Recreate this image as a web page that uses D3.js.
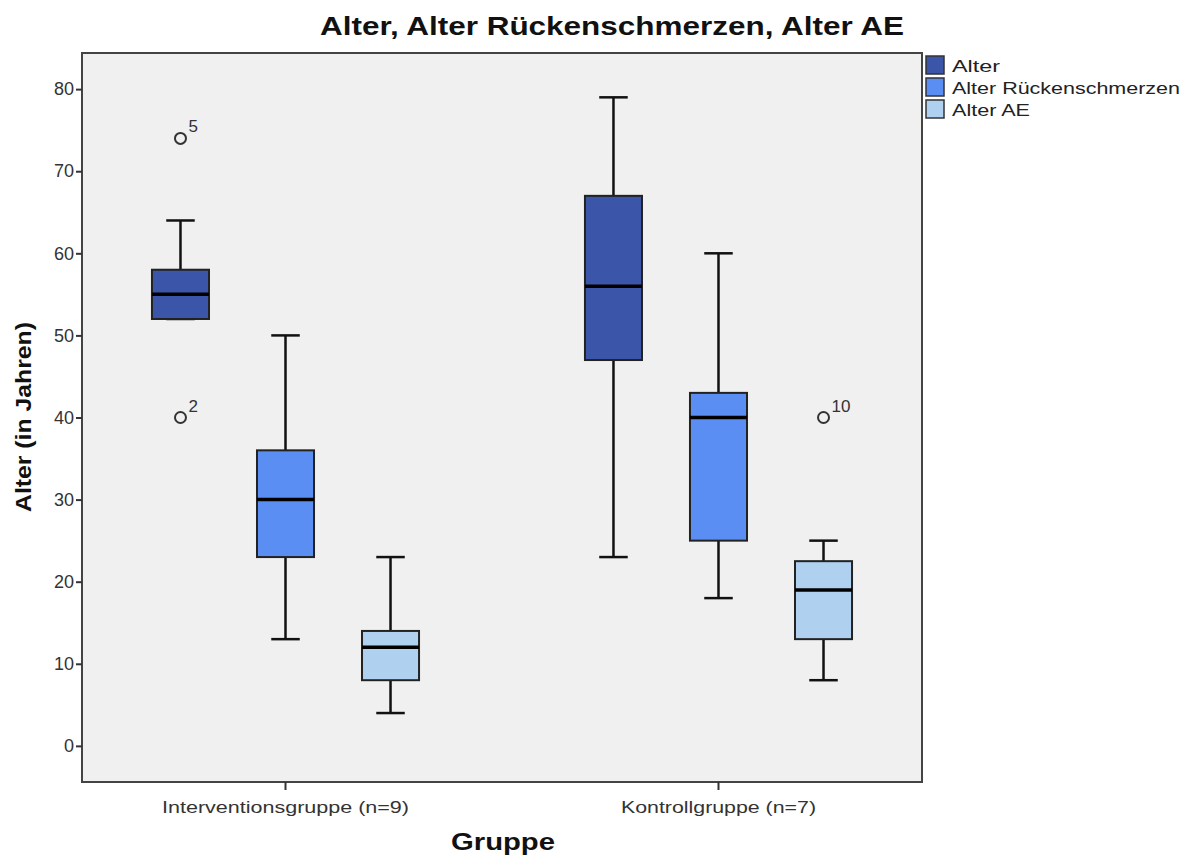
<!DOCTYPE html>
<head>
  <meta charset="utf-8">
  <script src="https://d3js.org/d3.v7.min.js"></script>
  <style>
    body { margin:0; background:#fff; font-family: "Liberation Sans", Arial, sans-serif; }
  </style>
</head>
<body>
  <script>
    // data
    var groups = ["Interventionsgruppe (n=9)", "Kontrollgruppe (n=7)"];
    var series = ["Alter", "Alter Rückenschmerzen", "Alter AE"];
    var colors = ["#3b55a8", "#5b8ef2", "#afd0ef"];
    // [group][series] = [lowWhisker, q1, median, q3, highWhisker]
    var stats = [
      [[52, 52, 55, 58, 64], [13, 23, 30, 36, 50], [4, 8, 12, 14, 23]],
      [[23, 47, 56, 67, 79], [18, 25, 40, 43, 60], [8, 13, 19, 22.5, 25]]
    ];
    // outliers: [group, series, value, case label]
    var outliers = [
      [0, 0, 74, "5"],
      [0, 0, 40, "2"],
      [1, 2, 40, "10"]
    ];
    var yTicks = [0, 10, 20, 30, 40, 50, 60, 70, 80];

    var W = 1189, H = 857;
    var pLeft = 82, pRight = 922, pTop = 53, pBottom = 782;

    var svg = d3.select("body").append("svg")
      .attr("width", W)
      .attr("height", H);

    var x = d3.scaleBand()
      .domain(groups)
      .range([pLeft, pRight])
      .paddingOuter(0.1)
      .paddingInner(0.26);

    var xs = d3.scaleBand()
      .domain(series)
      .range([0, x.bandwidth()])
      .paddingInner(0.457)
      .paddingOuter(0.254);

    var y = d3.scaleLinear()
      .domain([-4.4, 84.4])
      .range([pBottom, pTop]);

    // plot background
    svg.append("rect")
      .attr("x", pLeft).attr("y", pTop)
      .attr("width", pRight - pLeft).attr("height", pBottom - pTop)
      .style("fill", "#f0f0f0")
      .style("stroke", "#444")
      .style("stroke-width", 2);

    // axes
    var yaxis = d3.axisLeft(y).tickValues(yTicks).tickSize(6).tickSizeOuter(0);
    var gy = svg.append("g")
      .attr("transform", "translate(" + pLeft + ",0)")
      .call(yaxis);
    gy.select(".domain").remove();
    gy.selectAll("line").style("stroke", "#333").style("stroke-width", 2);
    gy.selectAll("text")
      .style("font-family", "Liberation Sans, Arial, sans-serif")
      .style("font-size", "18px")
      .style("fill", "#333")
      .attr("x", -8);

    var tickWidths = [247, 195];
    var xaxis = d3.axisBottom(x).tickSize(8).tickSizeOuter(0);
    var gx = svg.append("g")
      .attr("transform", "translate(0," + pBottom + ")")
      .call(xaxis);
    gx.select(".domain").remove();
    gx.selectAll("line").style("stroke", "#333").style("stroke-width", 2);
    gx.selectAll("text")
      .style("font-family", "Liberation Sans, Arial, sans-serif")
      .style("font-size", "16px")
      .style("fill", "#333")
      .attr("y", 20)
      .attr("textLength", function(d, i) { return tickWidths[i]; })
      .attr("lengthAdjust", "spacingAndGlyphs");

    // boxes
    var boxes = [];
    stats.forEach(function(g, gi) {
      g.forEach(function(s, si) {
        boxes.push({ g: groups[gi], s: series[si], color: colors[si], v: s });
      });
    });

    var bw = xs.bandwidth();
    var box = svg.selectAll(".box")
      .data(boxes)
      .enter()
      .append("g")
      .attr("class", "box")
      .attr("transform", function(d) { return "translate(" + (x(d.g) + xs(d.s)) + ",0)"; });

    // whisker line
    box.append("line")
      .attr("x1", bw / 2).attr("x2", bw / 2)
      .attr("y1", function(d) { return y(d.v[0]); })
      .attr("y2", function(d) { return y(d.v[4]); })
      .style("stroke", "#111").style("stroke-width", 2.5);
    // caps
    box.selectAll(".cap")
      .data(function(d) { return [d.v[0], d.v[4]]; })
      .enter()
      .append("line")
      .attr("x1", bw / 4).attr("x2", bw * 3 / 4)
      .attr("y1", function(v) { return y(v); })
      .attr("y2", function(v) { return y(v); })
      .style("stroke", "#111").style("stroke-width", 2.5);
    box.append("rect")
      .attr("x", 0)
      .attr("width", bw)
      .attr("y", function(d) { return y(d.v[3]); })
      .attr("height", function(d) { return y(d.v[1]) - y(d.v[3]); })
      .style("fill", function(d) { return d.color; })
      .style("stroke", "#222").style("stroke-width", 2);
    box.append("line")
      .attr("x1", 0).attr("x2", bw)
      .attr("y1", function(d) { return y(d.v[2]); })
      .attr("y2", function(d) { return y(d.v[2]); })
      .style("stroke", "#000").style("stroke-width", 3.5);

    // outliers
    var out = svg.selectAll(".outlier")
      .data(outliers)
      .enter()
      .append("g")
      .attr("class", "outlier")
      .attr("transform", function(d) {
        return "translate(" + (x(groups[d[0]]) + xs(series[d[1]]) + bw / 2) + "," + y(d[2]) + ")";
      });
    out.append("circle")
      .attr("r", 5.5)
      .style("fill", "none")
      .style("stroke", "#333")
      .style("stroke-width", 2);
    out.append("text")
      .text(function(d) { return d[3]; })
      .attr("x", 8).attr("y", -6)
      .style("font-size", "17px")
      .style("fill", "#333");

    // title
    svg.append("text")
      .text("Alter, Alter Rückenschmerzen, Alter AE")
      .attr("x", 612).attr("y", 35)
      .attr("text-anchor", "middle")
      .attr("textLength", 584)
      .attr("lengthAdjust", "spacingAndGlyphs")
      .style("font-size", "25px")
      .style("font-weight", "bold")
      .style("fill", "#111");

    // axis titles
    svg.append("text")
      .text("Alter (in Jahren)")
      .attr("transform", "translate(31,417) rotate(-90)")
      .attr("text-anchor", "middle")
      .attr("textLength", 190)
      .attr("lengthAdjust", "spacingAndGlyphs")
      .style("font-size", "22px")
      .style("font-weight", "bold")
      .style("fill", "#111");

    svg.append("text")
      .text("Gruppe")
      .attr("x", 503).attr("y", 850)
      .attr("text-anchor", "middle")
      .attr("textLength", 104)
      .attr("lengthAdjust", "spacingAndGlyphs")
      .style("font-size", "24px")
      .style("font-weight", "bold")
      .style("fill", "#111");

    // legend
    var legendWidths = [48, 228, 78];
    var legend = svg.append("g")
      .attr("transform", "translate(926,56)")
      .selectAll(".legend-item")
      .data(series)
      .enter()
      .append("g")
      .attr("class", "legend-item")
      .attr("transform", function(d, i) { return "translate(0," + (i * 22) + ")"; });
    legend.append("rect")
      .attr("width", 18).attr("height", 18)
      .style("fill", function(d, i) { return colors[i]; })
      .style("stroke", "#333").style("stroke-width", 1.5);
    legend.append("text")
      .text(function(d) { return d; })
      .attr("x", 26).attr("y", 16)
      .attr("textLength", function(d, i) { return legendWidths[i]; })
      .attr("lengthAdjust", "spacingAndGlyphs")
      .style("font-size", "17px")
      .style("fill", "#222");
  </script>
</body>
